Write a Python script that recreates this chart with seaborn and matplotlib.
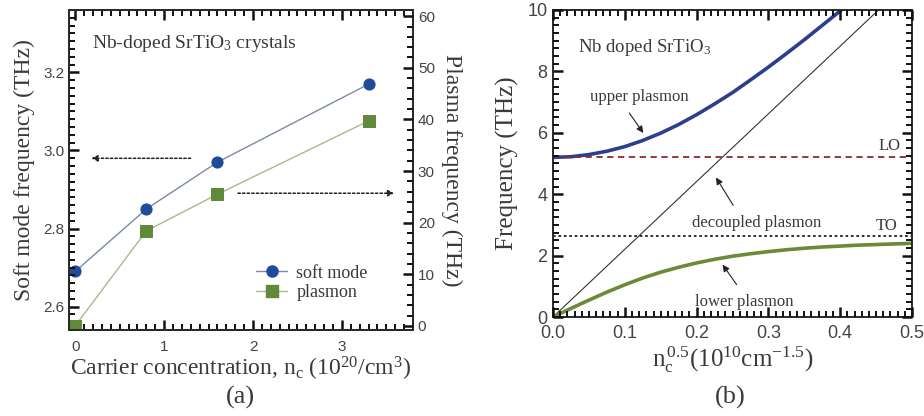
import numpy as np
import pandas as pd
import matplotlib
matplotlib.use("Agg")
import matplotlib.pyplot as plt
from matplotlib.ticker import MultipleLocator, FormatStrFormatter
from matplotlib.lines import Line2D
import seaborn as sns

# ---- (a) measured soft mode and plasma frequencies ----
carrier_conc = [0.0, 0.8, 1.6, 3.3]          # n_c (10^20 / cm^3)
soft_mode_thz = [2.69, 2.85, 2.97, 3.17]     # left axis
plasmon_thz = [0.0, 18.4, 25.5, 39.7]        # right axis

# ---- (b) coupled plasmon-phonon branches ----
sqrt_nc = [0.0, 0.025, 0.05, 0.075, 0.1, 0.125, 0.15, 0.175, 0.2, 0.225,
           0.25, 0.275, 0.3, 0.325, 0.35, 0.375, 0.4, 0.425, 0.45, 0.475, 0.5]
lower_plasmon = [0.0, 0.28, 0.55, 0.81, 1.05, 1.27, 1.46, 1.62, 1.76, 1.88,
                 1.98, 2.06, 2.13, 2.19, 2.24, 2.28, 2.31, 2.34, 2.36, 2.38, 2.40]
upper_plasmon = [5.20, 5.22, 5.29, 5.40, 5.55, 5.75, 5.99, 6.27, 6.59, 6.94,
                 7.31, 7.72, 8.14, 8.58, 9.03, 9.50, 9.97, 10.46]
decoupled_x = [0.0, 0.5]
decoupled_y = [0.0, 11.03]
lo_freq = 5.22
to_freq = 2.63

sns.set_theme(style="ticks")
SERIF = ["Liberation Serif", "DejaVu Serif"]
rc = plt.rcParams
rc["font.family"] = ["Liberation Sans", "DejaVu Sans"]
rc["mathtext.fontset"] = "custom"
rc["mathtext.rm"] = "Liberation Serif"
rc["mathtext.it"] = "Liberation Serif:italic"
rc["axes.edgecolor"] = "#2a2a2a"
rc["axes.linewidth"] = 1.4
rc["axes.axisbelow"] = False
rc["xtick.minor.visible"] = True
rc["ytick.minor.visible"] = True

TXT = "#3a3a3a"

fig = plt.figure(figsize=(9.24, 4.16), dpi=100)
ax = fig.add_axes([69 / 924, 1 - 330 / 416, 344 / 924, 320 / 416])
axr = ax.twinx()
axb = fig.add_axes([553 / 924, 1 - 317 / 416, 359 / 924, 307 / 416])


def style_ticks(a, size):
    a.set_axisbelow(False)
    a.tick_params(which="both", direction="in", labelcolor="#444444",
                  labelsize=size)
    a.tick_params(which="major", length=7, width=1.8, color="#111111")
    a.tick_params(which="minor", length=4, width=1.4, color="#111111")


# ---------------- panel (a) ----------------
df_a = pd.DataFrame({"n": carrier_conc, "soft": soft_mode_thz, "plasma": plasmon_thz})
sns.lineplot(data=df_a, x="n", y="soft", ax=ax, color="#7c89a6", lw=1.0,
             marker="o", markersize=8, markerfacecolor="#1f4b9b",
             markeredgecolor="#1f4b9b", legend=False)
sns.lineplot(data=df_a, x="n", y="plasma", ax=axr, color="#a9b98c", lw=1.0,
             marker="s", markersize=8, markerfacecolor="#61893a",
             markeredgecolor="#61893a", legend=False)

ax.set_xlim(-0.07, 3.8)
ax.set_ylim(2.54, 3.36)
axr.set_ylim(-0.8, 61.2)
ax.set_xticks([0, 1, 2, 3])
ax.xaxis.set_minor_locator(MultipleLocator(0.1))
ax.set_yticks([2.6, 2.8, 3.0, 3.2])
ax.yaxis.set_major_formatter(FormatStrFormatter("%.1f"))
ax.yaxis.set_minor_locator(MultipleLocator(0.02))
axr.set_yticks([0, 10, 20, 30, 40, 50, 60])
axr.yaxis.set_minor_locator(MultipleLocator(2))
style_ticks(ax, 11)
style_ticks(axr, 11)
ax.tick_params(axis="x", which="both", top=True, bottom=True, pad=7)
ax.tick_params(axis="y", which="both", left=True, right=False)
axr.tick_params(axis="y", which="both", right=True, left=False)
for s in list(ax.spines.values()) + list(axr.spines.values()):
    s.set_visible(True)

ax.set_xlabel(r"Carrier concentration, n$_\mathrm{c}$ (10$^{20}$/cm$^3$)",
              fontsize=17, color=TXT, labelpad=1, family=SERIF)
ax.set_ylabel("Soft mode frequency (THz)", fontsize=17, color=TXT,
              labelpad=6, family=SERIF)
axr.set_ylabel("Plasma frequency (THz)", fontsize=17, color=TXT,
               rotation=270, labelpad=20, family=SERIF)

ax.text(0.19, 3.274, r"Nb-doped SrTiO$_3$ crystals", fontsize=14,
        color=TXT, va="center", ha="left", family=SERIF)

ax.annotate("", xy=(0.15, 2.98), xytext=(1.33, 2.98),
            arrowprops=dict(arrowstyle="-|>", color="#222222", lw=1.1,
                            ls=(0, (1.5, 1.5)), mutation_scale=9))
axr.annotate("", xy=(3.62, 25.7), xytext=(1.8, 25.7),
             arrowprops=dict(arrowstyle="-|>", color="#222222", lw=1.1,
                             ls=(0, (1.5, 1.5)), mutation_scale=9))

handles = [
    Line2D([], [], color="#7c89a6", lw=1.0, marker="o", markersize=8,
           markerfacecolor="#1f4b9b", markeredgecolor="#1f4b9b"),
    Line2D([], [], color="#a9b98c", lw=1.0, marker="s", markersize=8,
           markerfacecolor="#61893a", markeredgecolor="#61893a"),
]
leg = axr.legend(handles, ["soft mode", "plasmon"], loc="center left",
                 bbox_to_anchor=(0.545, 0.147), frameon=False,
                 prop={"family": SERIF, "size": 13},
                 handlelength=1.7, handletextpad=0.5, labelspacing=0.15,
                 borderpad=0, borderaxespad=0)
for t in leg.get_texts():
    t.set_color(TXT)

# ---------------- panel (b) ----------------
df_low = pd.DataFrame({"x": sqrt_nc, "f": lower_plasmon})
df_up = pd.DataFrame({"x": sqrt_nc[:len(upper_plasmon)], "f": upper_plasmon})
df_dec = pd.DataFrame({"x": decoupled_x, "f": decoupled_y})

sns.lineplot(data=df_dec, x="x", y="f", ax=axb, color="#333333", lw=0.8)
sns.lineplot(data=df_up, x="x", y="f", ax=axb, color="#2c3f8e", lw=2.6)
sns.lineplot(data=df_low, x="x", y="f", ax=axb, color="#6b8a3a", lw=2.6)
axb.axhline(lo_freq, color="#8a2b30", lw=1.3, ls=(0, (3.5, 2.5)))
axb.axhline(to_freq, color="#222222", lw=1.3, ls=(0, (1.5, 1.5)))

axb.set_xlim(0, 0.5)
axb.set_ylim(0, 10)
axb.set_xticks([0, 0.1, 0.2, 0.3, 0.4, 0.5])
axb.xaxis.set_major_formatter(FormatStrFormatter("%.1f"))
axb.xaxis.set_minor_locator(MultipleLocator(0.01))
axb.set_yticks([0, 2, 4, 6, 8, 10])
axb.yaxis.set_minor_locator(MultipleLocator(0.25))
style_ticks(axb, 13)
axb.tick_params(which="both", top=True, right=True, bottom=True, left=True)
axb.tick_params(axis="x", pad=6)
axb.tick_params(axis="y", pad=4)
for s in axb.spines.values():
    s.set_visible(True)

axb.set_xlabel(r"n$_\mathrm{c}^{\,0.5}$(10$^{10}$cm$^{-1.5}$)", fontsize=18,
               color=TXT, labelpad=2, family=SERIF)
axb.set_ylabel("Frequency (THz)", fontsize=18, color=TXT, labelpad=6,
               family=SERIF)

axb.text(0.035, 8.79, r"Nb doped SrTiO$_3$", fontsize=13.5, color=TXT,
         va="center", ha="left", family=SERIF)
axb.text(0.469, 5.56, "LO", fontsize=12, color=TXT, ha="center",
         va="center", family=SERIF)
axb.text(0.465, 2.97, "TO", fontsize=12, color=TXT, ha="center",
         va="center", family=SERIF)

arrow_kw = dict(arrowstyle="-|>", color="#222222", lw=0.8, mutation_scale=10)
axb.text(0.12, 7.16, "upper plasmon", fontsize=12, color=TXT,
         ha="center", va="center", family=SERIF)
axb.annotate("", xy=(0.128, 5.92), xytext=(0.104, 6.72), arrowprops=arrow_kw)
axb.text(0.284, 3.07, "decoupled plasmon", fontsize=12, color=TXT,
         ha="center", va="center", family=SERIF)
axb.annotate("", xy=(0.225, 4.62), xytext=(0.253, 3.56), arrowprops=arrow_kw)
axb.text(0.267, 0.49, "lower plasmon", fontsize=12, color=TXT,
         ha="center", va="center", family=SERIF)
axb.annotate("", xy=(0.234, 1.78), xytext=(0.258, 0.98), arrowprops=arrow_kw)

fig.text(240 / 924, 1 - 397 / 416, "(a)", fontsize=19, color=TXT,
         ha="center", va="center", family=SERIF)
fig.text(730 / 924, 1 - 397 / 416, "(b)", fontsize=19, color=TXT,
         ha="center", va="center", family=SERIF)

fig.savefig("out.png", dpi=100)
